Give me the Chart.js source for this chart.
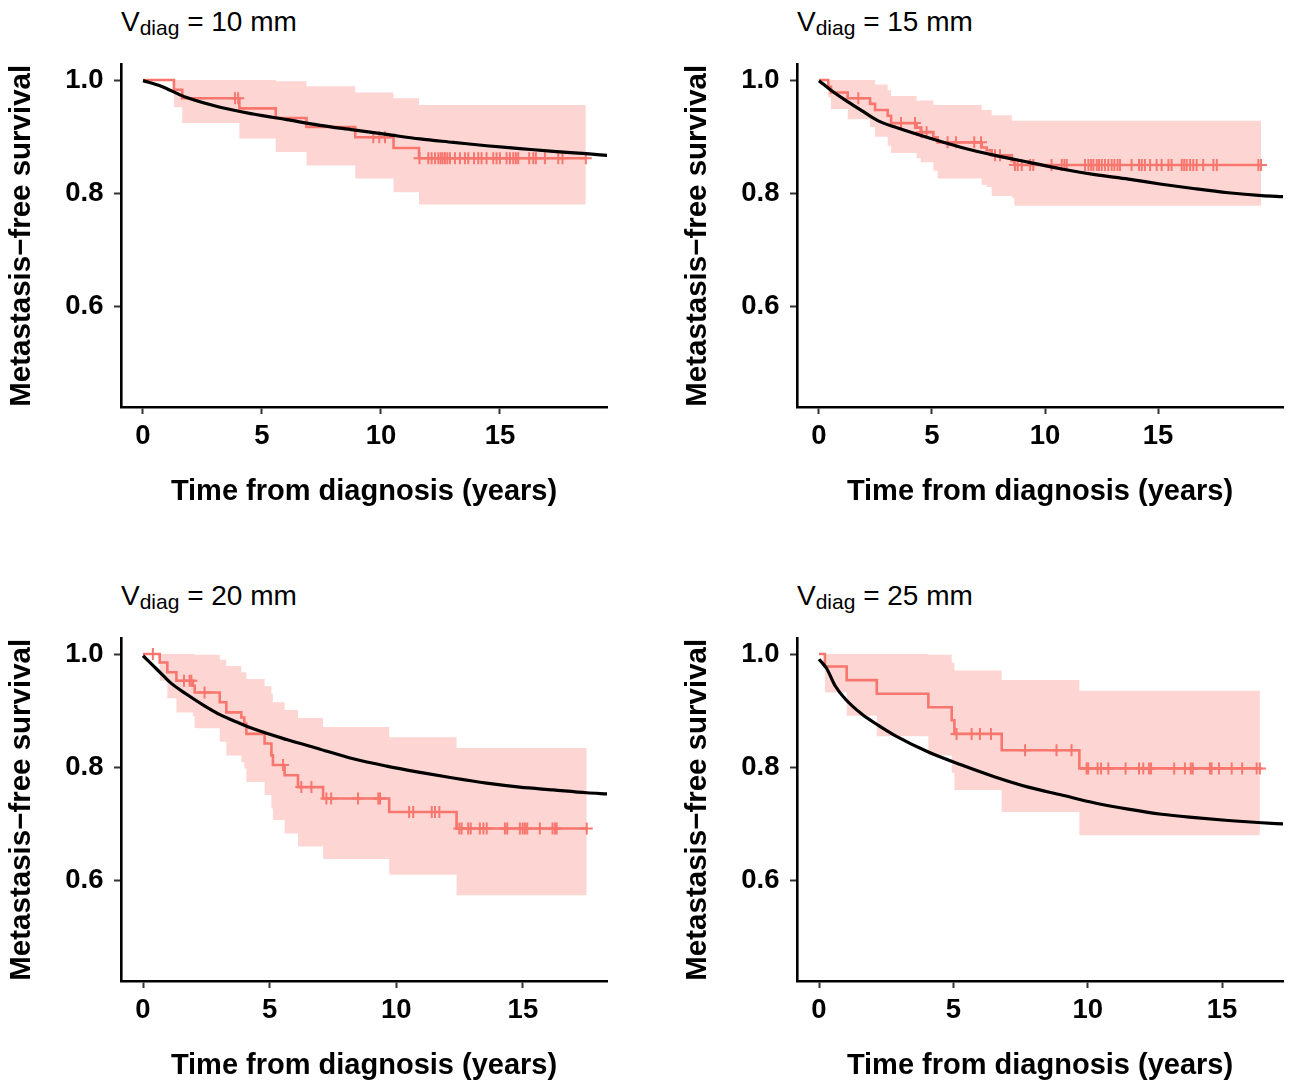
<!DOCTYPE html>
<html>
<head>
<meta charset="utf-8">
<script src="https://cdn.jsdelivr.net/npm/chart.js@4.4.1/dist/chart.umd.min.js"></script>
<style>
html,body{margin:0;padding:0;background:#fff;overflow:hidden;}
body{width:1293px;height:1080px;position:relative;font-family:"Liberation Sans",Arial,Helvetica,sans-serif;}
.panel{position:absolute;width:617px;height:506px;}
.panel canvas{position:absolute;left:0;top:0;}
.ttl{position:absolute;left:121px;top:8px;font-size:28px;line-height:28px;color:#000;white-space:nowrap;}
.ttl sub{font-size:21px;vertical-align:baseline;position:relative;top:4px;}
</style>
</head>
<body>
<div class="panel" style="left:0;top:0"><div class="ttl">V<sub>diag</sub> = 10 mm</div><canvas id="c10" width="617" height="506"></canvas></div>
<div class="panel" style="left:676px;top:0"><div class="ttl">V<sub>diag</sub> = 15 mm</div><canvas id="c15" width="617" height="506"></canvas></div>
<div class="panel" style="left:0;top:574px"><div class="ttl">V<sub>diag</sub> = 20 mm</div><canvas id="c20" width="617" height="506"></canvas></div>
<div class="panel" style="left:676px;top:574px"><div class="ttl">V<sub>diag</sub> = 25 mm</div><canvas id="c25" width="617" height="506"></canvas></div>
<script>
// ---------- tick labels ----------
const xTicks = [0, 5, 10, 15];
const yTicks = [0.6, 0.8, 1.0];
const xTitle = "Time from diagnosis (years)";
const yTitle = "Metastasis\u2212free survival";

// ---------- Vdiag = 10 mm ----------
const km10Time  = [0, 1.30, 1.65, 4.05, 5.58, 6.87, 8.92, 10.53, 11.60, 18.61];
const km10Surv  = [1.000, 0.983, 0.968, 0.950, 0.933, 0.917, 0.899, 0.880, 0.862, 0.862];
const km10Upper = [1.000, 1.000, 1.000, 1.000, 0.998, 0.989, 0.978, 0.968, 0.956, 0.956];
const km10Lower = [1.000, 0.952, 0.924, 0.897, 0.873, 0.849, 0.826, 0.802, 0.780, 0.780];
const cens10 = [3.87, 4.00, 9.68, 9.93, 10.17, 11.62, 11.99, 12.13, 12.27, 12.41, 12.51, 12.59, 12.69, 12.79, 12.90,
  13.11, 13.32, 13.53, 13.67, 13.91, 14.09, 14.23, 14.44, 14.72, 14.86, 15.00, 15.28, 15.42, 15.56, 15.67, 15.77,
  16.23, 16.40, 16.51, 16.89, 17.45, 17.63, 18.61];
const fit10Time = [0, 0.71, 1.84, 3.24, 4.63, 6.04, 7.44, 8.84, 10.24, 11.64, 13.04, 14.44, 15.84, 17.24, 18.63, 19.51];
const fit10Surv = [0.999, 0.990, 0.969, 0.952, 0.940, 0.930, 0.920, 0.912, 0.904, 0.896, 0.890, 0.884, 0.879, 0.874, 0.870, 0.867];

// ---------- Vdiag = 15 mm ----------
const km15Time  = [0, 0.41, 0.53, 1.27, 2.26, 2.48, 3.04, 3.19, 4.32, 4.50, 5.06, 5.25, 7.20, 7.42, 7.64, 8.53, 8.64, 19.56];
const km15Surv  = [1.000, 0.988, 0.978, 0.968, 0.958, 0.947, 0.937, 0.924, 0.916, 0.908, 0.899, 0.890, 0.881, 0.876, 0.867, 0.857, 0.850, 0.850];
const km15Upper = [1.000, 1.000, 1.000, 1.000, 1.000, 0.992, 0.982, 0.972, 0.964, 0.964, 0.956, 0.956, 0.947, 0.947, 0.938, 0.928, 0.928, 0.928];
const km15Lower = [1.000, 0.969, 0.949, 0.931, 0.917, 0.900, 0.884, 0.871, 0.862, 0.855, 0.840, 0.826, 0.815, 0.811, 0.795, 0.792, 0.778, 0.778];
const cens15 = [1.74, 3.63, 4.25, 4.54, 4.76, 5.69, 6.06, 6.87, 7.17, 7.79, 8.01, 8.67, 8.79, 8.97, 9.34, 9.48, 10.29,
  10.74, 10.86, 10.96, 11.77, 11.92, 12.04, 12.14, 12.29, 12.39, 12.51, 12.65, 12.80, 12.95, 13.07, 13.21, 13.32,
  13.83, 14.16, 14.28, 14.42, 14.65, 14.94, 15.16, 15.46, 15.60, 16.05, 16.16, 16.27, 16.42, 16.56, 16.71, 17.00,
  17.45, 17.60, 19.44, 19.56];
const fit15Time = [0, 0.56, 1.30, 1.89, 2.62, 3.36, 4.84, 6.31, 7.79, 9.26, 10.74, 12.21, 13.69, 15.16, 16.64, 18.11, 19.59, 20.54];
const fit15Surv = [0.999, 0.981, 0.961, 0.946, 0.928, 0.917, 0.898, 0.881, 0.867, 0.855, 0.843, 0.833, 0.825, 0.816, 0.808, 0.801, 0.796, 0.794];

// ---------- Vdiag = 20 mm ----------
const km20Time  = [0, 0.66, 0.96, 1.32, 1.97, 2.04, 3.03, 3.29, 3.88, 4.00, 4.08, 4.80, 5.07, 5.13, 5.59, 6.12, 7.11, 9.72, 12.38, 17.52];
const km20Surv  = [1.000, 0.985, 0.968, 0.953, 0.944, 0.932, 0.915, 0.897, 0.888, 0.877, 0.859, 0.842, 0.821, 0.804, 0.786, 0.765, 0.745, 0.721, 0.692, 0.692];
const km20Upper = [1.000, 1.000, 1.000, 1.000, 1.000, 0.999, 0.990, 0.979, 0.968, 0.968, 0.956, 0.943, 0.930, 0.915, 0.901, 0.887, 0.871, 0.853, 0.834, 0.834];
const km20Lower = [1.000, 0.953, 0.922, 0.897, 0.890, 0.869, 0.845, 0.821, 0.809, 0.798, 0.774, 0.751, 0.727, 0.707, 0.683, 0.660, 0.638, 0.610, 0.574, 0.574];
const cens20 = [0.39, 1.62, 1.84, 1.91, 2.43, 5.53, 6.25, 6.65, 7.24, 7.43, 8.49, 9.29, 9.36, 10.51, 10.67, 11.40, 11.53,
  11.70, 12.49, 12.58, 12.84, 12.94, 13.30, 13.44, 13.57, 14.29, 14.38, 14.88, 14.99, 15.08, 15.17, 15.67, 16.17,
  16.27, 16.33, 17.52];
const fit20Time = [0, 0.41, 0.80, 1.07, 1.72, 2.38, 3.04, 3.70, 4.36, 5.67, 6.99, 8.30, 9.62, 10.94, 12.25, 13.57, 14.88, 16.20, 17.52, 18.33];
const fit20Surv = [0.997, 0.979, 0.962, 0.950, 0.929, 0.910, 0.893, 0.880, 0.868, 0.849, 0.832, 0.815, 0.802, 0.791, 0.781, 0.772, 0.765, 0.760, 0.755, 0.753];

// ---------- Vdiag = 25 mm ----------
const km25Time  = [0, 0.22, 1.03, 2.15, 4.07, 4.94, 5.04, 6.80, 9.69, 16.41];
const km25Surv  = [1.000, 0.978, 0.954, 0.930, 0.906, 0.883, 0.859, 0.830, 0.798, 0.798];
const km25Upper = [1.000, 1.000, 1.000, 1.000, 0.999, 0.985, 0.971, 0.954, 0.935, 0.935];
const km25Lower = [1.000, 0.932, 0.891, 0.855, 0.821, 0.790, 0.760, 0.721, 0.680, 0.680];
const cens25 = [5.12, 5.68, 5.99, 6.40, 7.67, 8.84, 9.40, 9.96, 10.02, 10.37, 10.50, 10.77, 11.41, 11.91, 12.07, 12.28,
  12.36, 13.22, 13.62, 13.84, 13.91, 14.55, 14.61, 14.89, 15.36, 15.75, 16.29, 16.41];
const fit25Time = [0, 0.29, 0.60, 0.97, 1.59, 2.21, 2.83, 4.07, 5.31, 6.55, 7.79, 9.03, 10.27, 11.51, 12.75, 13.99, 15.23, 16.47, 17.28];
const fit25Surv = [0.991, 0.974, 0.944, 0.921, 0.894, 0.874, 0.856, 0.827, 0.804, 0.783, 0.765, 0.751, 0.737, 0.726, 0.717, 0.711, 0.706, 0.702, 0.700];

// ---------- axis ranges (x in years, y survival) ----------
const xRange10 = [-0.924, 19.50];
const xRange15 = [-0.973, 20.53];
const xRange20 = [-0.869, 18.32];
const xRange25 = [-0.819, 17.27];
const yRange = [0.4225, 1.0275];

// ---------- drawing ----------
const FONT = "'Liberation Sans', Arial, Helvetica, sans-serif";
const KM_COL = '#F8766D';
const BAND_COL = 'rgba(248,118,109,0.30)';

function toPts(xs, ys) { return xs.map((x, i) => ({ x: x, y: ys[i] })); }
function survAt(times, surv, t) {
  let v = surv[0];
  for (let i = 0; i < times.length; i++) { if (times[i] <= t + 1e-9) v = surv[i]; }
  return v;
}

function makePanel(id, time, surv, upper, lower, cens, fitT, fitS, xr) {
  const censPts = cens.map(t => ({ x: t, y: survAt(time, surv, t) }));
  new Chart(document.getElementById(id), {
    type: 'line',
    data: {
      datasets: [
        { data: toPts(fitT, fitS), borderColor: '#000', borderWidth: 3.2, pointRadius: 0,
          cubicInterpolationMode: 'monotone', fill: false },
        { type: 'scatter', data: censPts, pointStyle: 'cross', pointRadius: 6, pointHoverRadius: 6,
          borderColor: KM_COL, backgroundColor: KM_COL, pointBorderWidth: 2, borderWidth: 2, showLine: false },
        { data: toPts(time, surv), stepped: true, borderColor: KM_COL, borderWidth: 2.6, pointRadius: 0, fill: false },
        { data: toPts(time, upper), stepped: true, borderColor: 'rgba(0,0,0,0)', borderWidth: 0.01, pointRadius: 0, fill: false },
        { data: toPts(time, lower), stepped: true, borderColor: 'rgba(0,0,0,0)', borderWidth: 0.01, pointRadius: 0,
          fill: '-1', backgroundColor: BAND_COL }
      ]
    },
    options: {
      responsive: false,
      animation: false,
      devicePixelRatio: 1,
      events: [],
      layout: { padding: { top: 64.5, right: 10, left: 0, bottom: 0 } },
      plugins: { legend: { display: false }, tooltip: { enabled: false }, title: { display: false } },
      scales: {
        x: {
          type: 'linear', min: xr[0], max: xr[1],
          afterBuildTicks: s => { s.ticks = xTicks.map(v => ({ value: v })); },
          afterFit: s => { s.height = 506 - 407; },
          ticks: { font: { family: FONT, size: 27.5, weight: 'bold', lineHeight: 1.2 }, color: '#000', padding: 5.5, maxRotation: 0, autoSkip: false,
                   callback: v => String(v) },
          grid: { display: true, drawOnChartArea: false, drawTicks: true, tickLength: 7, tickColor: '#333', tickWidth: 2 },
          border: { display: true, color: '#000', width: 2.6 },
          title: { display: true, text: xTitle, color: '#000', font: { family: FONT, size: 29, weight: 'bold', lineHeight: 0.9 },
                   padding: { top: 0, bottom: 1 } }
        },
        y: {
          type: 'linear', min: yRange[0], max: yRange[1],
          afterBuildTicks: s => { s.ticks = yTicks.map(v => ({ value: v })); },
          afterFit: s => { s.width = 121; },
          ticks: { font: { family: FONT, size: 27.5, weight: 'bold', lineHeight: 1.0 }, color: '#000', padding: 10.5,
                   callback: v => Number(v).toFixed(1) },
          grid: { display: true, drawOnChartArea: false, drawTicks: true, tickLength: 7, tickColor: '#333', tickWidth: 2 },
          border: { display: true, color: '#000', width: 2.6 },
          title: { display: true, text: yTitle, color: '#000', font: { family: FONT, size: 29.5, weight: 'bold', lineHeight: 1.0 },
                   padding: { top: 7, bottom: 0 } }
        }
      }
    }
  });
}

makePanel('c10', km10Time, km10Surv, km10Upper, km10Lower, cens10, fit10Time, fit10Surv, xRange10);
makePanel('c15', km15Time, km15Surv, km15Upper, km15Lower, cens15, fit15Time, fit15Surv, xRange15);
makePanel('c20', km20Time, km20Surv, km20Upper, km20Lower, cens20, fit20Time, fit20Surv, xRange20);
makePanel('c25', km25Time, km25Surv, km25Upper, km25Lower, cens25, fit25Time, fit25Surv, xRange25);
</script>
</body>
</html>
